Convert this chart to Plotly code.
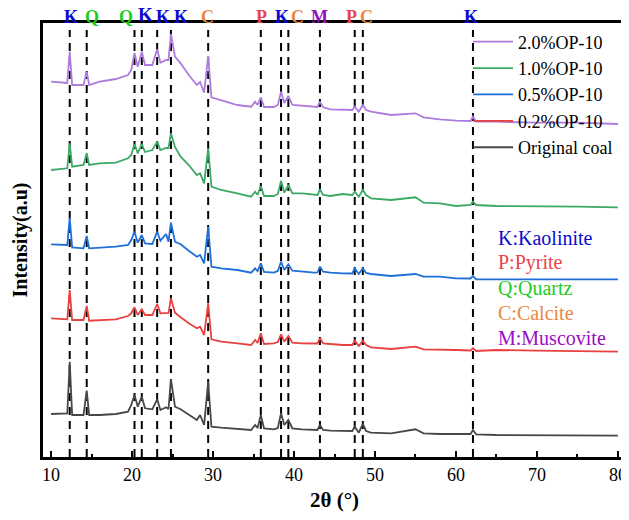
import plotly.graph_objects as go

# 2θ sampling points
two_theta = [10, 12.0, 12.3, 12.6, 14.0, 14.4, 14.7, 16, 18, 19.5, 19.9, 20.3, 20.7, 21.2, 21.6,
             22.5, 23.1, 23.5, 24.2, 24.5, 24.8, 25.3, 26, 27, 28, 28.4, 28.9, 29.4, 29.8, 31,
             33, 34.7, 35.2, 35.5, 35.9, 36.3, 37.5, 38.0, 38.4, 38.8, 39.3, 39.8, 41, 42.5,
             42.9, 43.2, 43.6, 44.5, 46, 47.2, 47.5, 48.0, 48.5, 48.9, 49.5, 52, 55, 56, 58,
             60, 61.8, 62.1, 62.5, 65, 70, 75, 80]

# stacked intensities (a.u.)
original_coal = [43, 43.7, 95.3, 42, 42, 66.3, 42, 42, 43, 45.3, 52, 62, 50.3, 60.3, 48.7,
                 47.7, 57.7, 47, 49.7, 48, 77.7, 50.3, 47.7, 42, 37, 42, 32, 75.3, 30.3, 29.3,
                 27.7, 27, 32, 29, 42, 28.5, 27.7, 29, 43.7, 32, 37, 28.7, 27.7, 27,
                 27, 32, 27, 26.3, 26.5, 26, 30.3, 24.3, 33, 26, 24.3, 23.7, 27.7, 23.7, 23,
                 23, 23, 27, 22.7, 22, 21.7, 21.3, 21.3]
op_02 = [138.7, 137.7, 167, 137, 137, 151, 136.3, 137, 137.7, 141, 143.7, 149.7, 142, 147.7, 142,
         142, 153, 143.7, 144.3, 144, 158.7, 144.3, 139.7, 133.7, 128.7, 130.3, 122, 153.7, 117.7, 115.3,
         113.7, 112, 117, 114, 123.7, 113, 113.7, 115, 122.7, 115.3, 121, 114.3, 113.7, 113.7,
         113.5, 118.7, 113.7, 113, 112, 112, 116.3, 111, 116.3, 112, 109.7, 108, 110.3, 107.7, 107,
         107, 106.5, 108.7, 106, 107, 106.3, 106, 105.3]
op_05 = [212.7, 212, 239.3, 209.7, 208.7, 221, 208.7, 209.3, 210.3, 212, 217, 225.3, 214.3, 222, 213.7,
         213, 225.3, 216.3, 223, 215.3, 234.3, 215.3, 212.7, 206.3, 200.3, 202, 193.7, 230.3, 190.3, 188.7,
         187, 184.3, 188.7, 186, 193.7, 185, 184.3, 186, 195.3, 187, 192.7, 186.3, 185.3, 184.3,
         184.5, 190.3, 185.3, 184.3, 183.7, 183.5, 188.7, 183, 188.7, 184, 183, 181, 183, 180.3, 180.3,
         178.7, 178.5, 181, 177.7, 177.7, 178.3, 178, 177.7]
op_10 = [287, 288.7, 313.7, 290.3, 292, 303.7, 292, 293.7, 294.3, 298.7, 302, 313, 303.7, 313, 305,
         307, 315.3, 307, 309, 309, 323.7, 310, 300.3, 292, 282, 283.7, 273.7, 308.7, 270.3, 267,
         263.7, 260.3, 265.3, 262, 271, 261, 261, 263, 276.3, 264.3, 272, 263.7, 263.7, 262,
         262, 267.7, 262, 261, 263, 262, 265.3, 260.3, 267, 262, 258.7, 257, 259.7, 254.3, 253.7,
         251, 252, 255.3, 252, 251, 251, 250.3, 249.7]
op_20 = [375.3, 374, 405.3, 372, 372, 385.3, 372, 375.3, 378, 382, 387, 404, 390.3, 405.3, 392,
         392, 407.7, 394.3, 397, 397, 423, 400.3, 393.7, 382, 372, 375, 364.3, 401, 359.7, 357,
         352, 350.3, 355.3, 352, 359.7, 350, 350, 352, 365.3, 354, 361, 352, 351, 349.7,
         350, 355.3, 349.7, 347.7, 347, 347, 350.3, 345.3, 352, 347, 345.3, 342, 343.7, 339.7, 337.7,
         336.3, 336, 340.3, 335.3, 335.3, 334.3, 334.3, 333]

series_names = ["Original coal", "0.2%OP-10", "0.5%OP-10", "1.0%OP-10", "2.0%OP-10"]
series_values = [original_coal, op_02, op_05, op_10, op_20]
series_colors = ["#474747", "#E8413F", "#1F6FD8", "#3CA865", "#AD7BDE"]

# phase peak markers (dashed lines) and their labels (label centres as placed in the figure)
peak_positions = [12.3, 14.4, 20.3, 21.2, 23.1, 24.8, 29.4, 35.9, 38.4, 39.3, 43.2, 47.5, 48.5, 62.1]
label_positions = [12.43, 15.0, 19.25, 21.6, 23.8, 26.0, 29.37, 36.0, 38.46, 40.4, 43.18, 47.1, 48.94, 61.8]
peak_labels = ["K", "Q", "Q", "K", "K", "K", "C", "P", "K", "C", "M", "P", "C", "K"]
label_colors = {"K": "#0A0ACF", "Q": "#1FCC1F", "C": "#E8883E", "P": "#E8434C", "M": "#9A0CC4"}

phase_legend = ["K:Kaolinite", "P:Pyrite", "Q:Quartz", "C:Calcite", "M:Muscovite"]
phase_legend_colors = ["#0A0ACF", "#E8434C", "#1FCC1F", "#E8883E", "#9A0CC4"]

x_ticks = [10, 20, 30, 40, 50, 60, 70, 80]

FONT = "Liberation Serif, Times New Roman, serif"

fig = go.Figure()
for name, vals, col in zip(series_names, series_values, series_colors):
    fig.add_trace(go.Scatter(x=two_theta, y=vals, mode="lines", name=name,
                             line=dict(color=col, width=1.8)))

for p in peak_positions:
    fig.add_shape(type="line", xref="x", yref="paper", x0=p, x1=p, y0=0, y1=0.984,
                  line=dict(color="black", width=2, dash="8px,6px"), layer="below")

for i, (p, lab) in enumerate(zip(label_positions, peak_labels)):
    raised = (i == 3)
    fig.add_annotation(x=p, y=1.019 if raised else 1.013, xref="x", yref="paper",
                       text="<b>%s</b>" % lab, showarrow=False,
                       font=dict(family=FONT, size=19 if raised else 18, color=label_colors[lab]),
                       yanchor="middle", xanchor="center")

for j, (t, c) in enumerate(zip(phase_legend, phase_legend_colors)):
    fig.add_annotation(x=0.777, y=0.5046 - j * 0.0575, xref="paper", yref="paper", text=t,
                       showarrow=False, xanchor="left", yanchor="middle",
                       font=dict(family=FONT, size=20, color=c))

# the page body has an 8px default margin, so the figure is sized/offset to compensate
fig.update_layout(
    width=621, height=504,
    margin=dict(l=35, r=3, t=15, b=55, autoexpand=False),
    paper_bgcolor="white", plot_bgcolor="white",
    font=dict(family=FONT, color="black"),
    showlegend=True,
    legend=dict(x=0.729, y=0.999, xanchor="left", yanchor="top", traceorder="reversed",
                bgcolor="rgba(0,0,0,0)", font=dict(family=FONT, size=18, color="black"),
                itemwidth=40, tracegroupgap=0),
    xaxis=dict(range=[9, 81], tickvals=x_ticks, ticks="inside", ticklen=6, tickwidth=2,
               tickcolor="black", showline=True, linewidth=2.5, linecolor="black", mirror=True,
               showgrid=False, zeroline=False, automargin=False,
               minor=dict(dtick=5, tick0=0, ticks="inside", ticklen=3, tickwidth=1.5, tickcolor="black"),
               tickfont=dict(family=FONT, size=18, color="black"),
               title=dict(text="<b>2θ (°)</b>", font=dict(family=FONT, size=21, color="black"), standoff=10)),
    yaxis=dict(range=[0, 434], showticklabels=False, ticks="", showline=True, linewidth=2.5,
               linecolor="black", mirror=True, showgrid=False, zeroline=False, automargin=False,
               title=dict(text="<b>Intensity(a.u)</b>", font=dict(family=FONT, size=20, color="black"), standoff=8)),
)
fig.update_xaxes(tickprefix="<b>", ticksuffix="</b>")

fig.write_html("out.html")
